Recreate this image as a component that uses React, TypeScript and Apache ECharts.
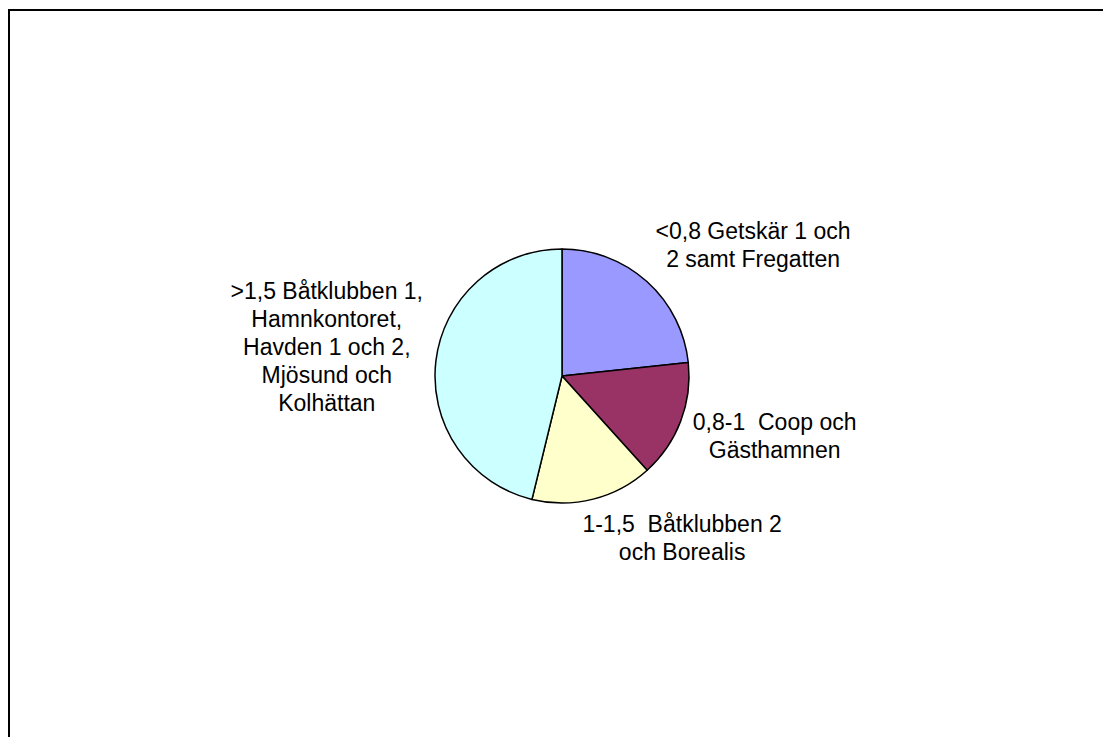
import React, { useEffect, useRef } from "react";
import * as echarts from "echarts";

const categories = [
  "<0,8 Getskär 1 och\n2 samt Fregatten",
  "0,8-1  Coop och\nGästhamnen",
  "1-1,5  Båtklubben 2\noch Borealis",
  ">1,5 Båtklubben 1,\nHamnkontoret,\nHavden 1 och 2,\nMjösund och\nKolhättan",
];
const values = [23.3, 15.0, 15.5, 46.2];
const colors = ["#9999FF", "#993366", "#FFFFCC", "#CCFFFF"];

const CX = 554;
const CY = 368;
const R = 127;
const LABEL_R = 140;

function clamp(v: number) {
  return Math.max(-1, Math.min(1, v));
}

export default function App() {
  const ref = useRef<HTMLDivElement>(null);
  useEffect(() => {
    if (!ref.current) return;
    const chart = echarts.init(ref.current, undefined, { renderer: "svg" });
    const total = values.reduce((a, b) => a + b, 0);
    const mids: number[] = [];
    let acc = 0;
    values.forEach((v) => {
      mids.push(((acc + v / 2) / total) * 2 * Math.PI);
      acc += v;
    });
    chart.setOption({
      animation: false,
      backgroundColor: "#ffffff",
      graphic: [
        {
          type: "rect",
          shape: { x: 1, y: 2, width: 1110, height: 760 },
          style: { fill: "none", stroke: "#000", lineWidth: 2 },
          silent: true,
        },
      ],
      series: [
        {
          type: "pie",
          center: [CX, CY],
          radius: [0, R],
          startAngle: 90,
          clockwise: true,
          data: categories.map((c, i) => ({
            name: c,
            value: values[i],
            itemStyle: { color: colors[i] },
          })),
          itemStyle: { borderColor: "#000", borderWidth: 1.5 },
          emphasis: { disabled: true },
          label: {
            show: true,
            position: "outside",
            formatter: "{b}",
            color: "#000",
            fontFamily: "Liberation Sans, Arial, sans-serif",
            fontSize: 23,
            lineHeight: 28,
            align: "center",
          },
          labelLine: { show: false },
          labelLayout: (params: any) => {
            const th = mids[params.dataIndex];
            const s = Math.sin(th);
            const c = -Math.cos(th);
            const ax = CX + LABEL_R * s;
            const ay = CY + LABEL_R * c;
            const w = params.labelRect.width;
            const h = params.labelRect.height;
            return {
              x: ax + (w / 2) * clamp(s * 3.5),
              y: ay + (h / 2) * clamp(c * 1.2) - 2,
              align: "center",
              verticalAlign: "middle",
            };
          },
        },
      ],
    });
    return () => chart.dispose();
  }, []);
  return (
    <div
      ref={ref}
      style={{ position: "absolute", left: 8, top: 8, width: 1095, height: 729 }}
    />
  );
}
